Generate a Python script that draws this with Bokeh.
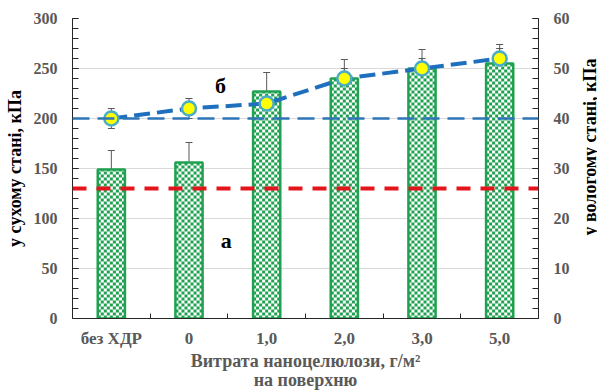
import math
import numpy as np
from bokeh.plotting import figure
from bokeh.layouts import row
from bokeh.models import (Range1d, LinearAxis, FixedTicker, ColumnDataSource, Whisker, TeeHead,
                          Span, Label)
from bokeh.embed import file_html
from bokeh.resources import INLINE

# ---- data ----
categories = ["без ХДР", "0", "1,0", "2,0", "3,0", "5,0"]
dry_values = [149, 156, 227, 240, 250, 255]        # bars, left axis (kPa, dry)
dry_errors = [19, 20, 19, 19, 19, 19]
wet_values = [40, 42, 43, 48, 50, 52]              # points, right axis (kPa, wet)
wet_errors = [2, 2, 2, 2, 2, 2]
dry_reference = 130                                # red dashed line (left axis)
wet_reference = 40                                 # blue dashed line (right axis)
x_title_lines = ["Витрата наноцелюлози, г/м²", "на поверхню"]
right_title = "у вологому стані, кПа"

FONT = "Liberation Serif"
GRAY = "#595959"
GREEN = "#1fa150"

n = len(categories)
xs = np.arange(n) + 0.5

p = figure(width=579, height=392, output_backend="svg", toolbar_location=None,
           x_range=Range1d(0, n), y_range=Range1d(0, 300),
           min_border_left=72, min_border_right=41, min_border_top=18, min_border_bottom=74)
p.outline_line_color = None
p.background_fill_color = "white"
p.xgrid.visible = False
p.ygrid.grid_line_color = "#d9d9d9"
p.ygrid.ticker = FixedTicker(ticks=[50, 100, 150, 200, 250, 300])

p.extra_y_ranges = {"wet": Range1d(0, 60)}

def style_axis(ax):
    ax.major_label_text_font = FONT
    ax.major_label_text_font_style = "bold"
    ax.major_label_text_color = GRAY
    ax.major_label_text_font_size = "16px"
    ax.axis_label_text_font = FONT
    ax.axis_label_text_font_style = "bold"
    ax.axis_label_text_font_size = "18px"
    ax.axis_line_color = "#262626"
    ax.major_tick_line_color = "#262626"
    ax.minor_tick_line_color = "#262626"
    ax.major_tick_out = 0
    ax.minor_tick_out = 0

# left axis
la = p.yaxis[0]
style_axis(la)
la.ticker = FixedTicker(ticks=list(range(0, 301, 50)), minor_ticks=list(range(0, 301, 10)))
la.major_tick_in = 6
la.minor_tick_in = 6
la.axis_label = "у сухому стані, кПа"
la.axis_label_text_color = "black"
la.major_label_standoff = 15
la.axis_label_standoff = 6

# right axis (its title is drawn in a narrow strip to the right, reading bottom-to-top)
ra = LinearAxis(y_range_name="wet")
style_axis(ra)
ra.ticker = FixedTicker(ticks=list(range(0, 61, 10)), minor_ticks=list(range(0, 61, 2)))
ra.major_tick_in = 6
ra.minor_tick_in = 6
ra.major_label_standoff = 15
p.add_layout(ra, "right")

# x axis
xa = p.xaxis[0]
style_axis(xa)
xa.ticker = FixedTicker(ticks=list(xs), minor_ticks=list(range(1, n)))
xa.major_label_overrides = {float(x): c for x, c in zip(xs, categories)}
xa.major_label_text_font_size = "17px"
xa.major_tick_in = 0
xa.minor_tick_in = 5
xa.major_label_standoff = 10
xa.axis_label = "\n".join(x_title_lines)
xa.axis_label_text_color = GRAY
xa.axis_label_text_font_size = "18px"
xa.axis_label_text_line_height = 0.95
xa.axis_label_standoff = 0

# bars: white body, checkerboard texture built from the bar heights, green border
bw = 0.35
cols = 9
sq_w = bw / cols
sq_h = 3.0
L, R, B, T = [], [], [], []
for xc, top in zip(xs, dry_values):
    rows = math.ceil(top / sq_h)
    for c in range(cols):
        for r in range(rows):
            if (r + c) % 2 == 0:
                L.append(xc - bw / 2 + c * sq_w)
                R.append(xc - bw / 2 + (c + 1) * sq_w)
                B.append(r * sq_h)
                T.append(min((r + 1) * sq_h, top))

bar_src = ColumnDataSource(dict(x=xs, top=dry_values,
                                upper=np.array(dry_values) + np.array(dry_errors),
                                lower=np.array(dry_values) - np.array(dry_errors)))
p.vbar(x="x", top="top", width=bw, source=bar_src, fill_color="white", line_color=None)
p.quad(left=L, right=R, bottom=B, top=T, fill_color=GREEN, line_color=None)
p.vbar(x="x", top="top", width=bw, source=bar_src, fill_color=None,
       line_color=GREEN, line_width=2.5)

p.add_layout(Whisker(base="x", upper="upper", lower="lower", source=bar_src,
                     line_color=GRAY, line_width=1,
                     upper_head=TeeHead(size=7, line_color=GRAY, line_width=1),
                     lower_head=TeeHead(size=7, line_color=GRAY, line_width=1)))

# reference lines
p.add_layout(Span(location=dry_reference, dimension="width", line_color="#e3141c",
                  line_width=4, line_dash="14 10"))
p.add_layout(Span(location=wet_reference, dimension="width", line_color="#2e75b6",
                  line_width=2.5, line_dash="17 8", y_range_name="wet"))

# points (right axis)
pt_src = ColumnDataSource(dict(x=xs, y=wet_values,
                               upper=np.array(wet_values) + np.array(wet_errors),
                               lower=np.array(wet_values) - np.array(wet_errors)))
p.line("x", "y", source=pt_src, y_range_name="wet", line_color="#1f6fbf",
       line_width=4, line_dash="16 7")
p.add_layout(Whisker(base="x", upper="upper", lower="lower", source=pt_src,
                     y_range_name="wet", line_color=GRAY, line_width=1,
                     upper_head=TeeHead(size=7, line_color=GRAY, line_width=1),
                     lower_head=TeeHead(size=7, line_color=GRAY, line_width=1)))
p.scatter("x", "y", source=pt_src, y_range_name="wet", size=14,
          fill_color="#ffff00", line_color="#4bacc6", line_width=2.5)

# annotations
p.add_layout(Label(x=1.905, y=233, text="б", text_font=FONT, text_font_style="bold",
                   text_font_size="22px", text_color="black", text_align="center",
                   text_baseline="middle"))
p.add_layout(Label(x=1.98, y=78, text="а", text_font=FONT, text_font_style="bold",
                   text_font_size="22px", text_color="black", text_align="center",
                   text_baseline="middle"))

# narrow strip holding the right-axis title (pixel-based range, centred on the plot frame)
strip = figure(width=18, height=392, output_backend="svg", toolbar_location=None,
               x_range=Range1d(0, 18), y_range=Range1d(0, 392), min_border=0)
strip.axis.visible = False
strip.grid.visible = False
strip.outline_line_color = None
strip.background_fill_color = "white"
strip.add_layout(Label(x=10, y=224, text=right_title, angle=math.pi / 2,
                       text_font=FONT, text_font_style="bold", text_font_size="18px",
                       text_color="black", text_align="center", text_baseline="middle"))

layout = row(p, strip, spacing=0)
open("out.html", "w").write(file_html(layout, INLINE))
